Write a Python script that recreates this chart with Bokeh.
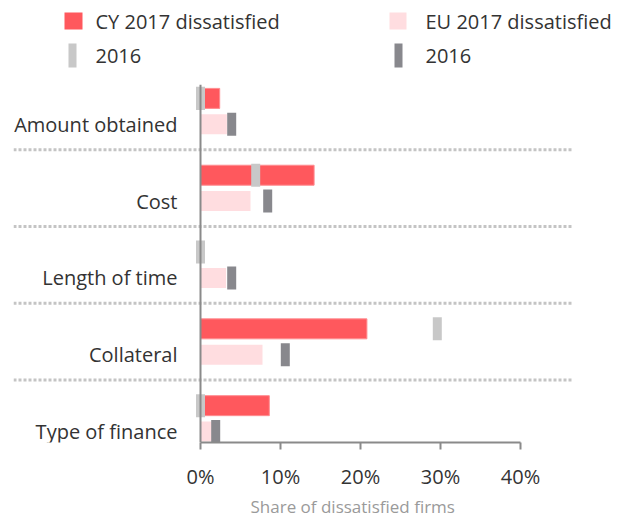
from bokeh.plotting import figure
from bokeh.models import Range1d, FixedTicker, PrintfTickFormatter, Span, ColumnDataSource, Title
from bokeh.layouts import column
from bokeh.embed import file_html
from bokeh.resources import INLINE
from bokeh.core.properties import value

# ---------------- data ----------------
categories = ["Amount obtained", "Cost", "Length of time", "Collateral", "Type of finance"]
cy_2017 = [2.4, 14.2, 0.0, 20.8, 8.6]     # CY 2017 dissatisfied (%)
cy_2016 = [0.0, 6.9, 0.0, 29.6, 0.0]      # CY 2016 (%)
eu_2017 = [3.3, 6.25, 3.2, 7.75, 1.4]     # EU 2017 dissatisfied (%)
eu_2016 = [3.9, 8.4, 3.9, 10.6, 1.9]      # EU 2016 (%)
x_ticks = [0, 10, 20, 30, 40]
legend_labels = ["CY 2017 dissatisfied", "EU 2017 dissatisfied", "2016", "2016"]
x_title = "Share of dissatisfied firms"

# ---------------- style ----------------
FONT = "Open Sans"
RED = "#FF585D"
PINK = "#FFDDE0"
LGRAY = "#C8C8C8"
DGRAY = "#88888D"
AXIS = "#8A8A8A"
TXT = "#333333"

W = 620
BL, BR = 13, 0           # frame borders (left / right)
LEG_H = 84
MAIN_H = 433
PX_PER_PCT = 8
ZERO_PX = 200
ROW_PX = 77.25           # pixels per category row
EU0_PX = 124             # pixel row of first EU bar
FR_TOP, FR_BOT = LEG_H, 444
SEP_X0, SEP_X1 = -23.375, 46.375   # extent of dotted separators (in % units)
TITLE_LEFT_PX = 250

ROW_OFF = 0.337          # CY bar sits above the EU bar
BAR_H = 0.26
MARK_H = 0.30

idx = list(range(len(categories)))
src = ColumnDataSource(dict(
    cat=categories,
    eu_y=[i for i in idx],
    cy_y=[i - ROW_OFF for i in idx],
    cy17=cy_2017, cy16=cy_2016, eu17=eu_2017, eu16=eu_2016,
))
sep_src = ColumnDataSource(dict(y=[i + 0.33 for i in idx[:-1]]))

y_top = (FR_TOP - EU0_PX) / ROW_PX
y_bot = (FR_BOT - EU0_PX) / ROW_PX
x_lo = (BL - ZERO_PX) / PX_PER_PCT
x_hi = (W - BR - ZERO_PX) / PX_PER_PCT

p = figure(width=W, height=MAIN_H,
           x_range=Range1d(x_lo, x_hi), y_range=Range1d(y_bot, y_top),
           output_backend="svg", toolbar_location=None, y_axis_location=None,
           min_border_left=BL, min_border_right=BR, min_border_top=0, min_border_bottom=0,
           outline_line_color=None, background_fill_color="white", border_fill_color="white")
p.grid.visible = False

# separators
p.segment(x0=SEP_X0, x1=SEP_X1, y0="y", y1="y", source=sep_src,
          line_color="#C4C4C4", line_width=3, line_dash="3 2")

# bars
p.hbar(y="cy_y", left=0, right="cy17", height=BAR_H, source=src,
       fill_color=RED, line_color="#FF8C90", line_width=1)
p.hbar(y="eu_y", left=0, right="eu17", height=BAR_H, source=src,
       fill_color=PINK, line_color=None)

# vertical zero line
p.add_layout(Span(location=0, dimension="height", line_color=AXIS, line_width=2))

# 2016 markers
p.rect(x="cy16", y="cy_y", width=9, width_units="screen", height=MARK_H, source=src,
       fill_color=LGRAY, line_color=None)
p.rect(x="eu16", y="eu_y", width=9, width_units="screen", height=MARK_H, source=src,
       fill_color=DGRAY, line_color=None)

# category labels
p.text(x=-2.875, y="eu_y", text="cat", source=src, text_align="right", text_baseline="middle",
       text_font=value(FONT), text_font_size="20px", text_color=TXT)

xa = p.xaxis[0]
xa.bounds = (0, 40)
xa.ticker = FixedTicker(ticks=x_ticks)
xa.formatter = PrintfTickFormatter(format="%d%%")
xa.minor_tick_line_color = None
xa.major_tick_out = 7
xa.major_tick_in = 0
xa.axis_line_color = AXIS
xa.axis_line_width = 2
xa.major_tick_line_color = AXIS
xa.major_tick_line_width = 2
xa.major_label_text_font = FONT
xa.major_label_text_font_size = "20px"
xa.major_label_text_color = TXT
xa.major_label_standoff = 13

# axis title, placed under the 0-40% span
p.add_layout(Title(text=x_title, align="left", offset=TITLE_LEFT_PX - BL, standoff=0,
                   text_font=FONT, text_font_size="17px", text_font_style="normal",
                   text_color="#9A9A9A"), "below")

# ---------------- legend ----------------
leg = figure(width=W, height=LEG_H, x_range=Range1d(BL, W - BR), y_range=Range1d(LEG_H, 0),
             output_backend="svg", toolbar_location=None,
             x_axis_location=None, y_axis_location=None,
             min_border_left=BL, min_border_right=BR, min_border_top=0, min_border_bottom=0,
             outline_line_color=None,
             background_fill_color="white", border_fill_color="white")
leg.grid.visible = False
leg_src = ColumnDataSource(dict(
    x=[73, 397.5, 72, 398], y=[20.5, 20.5, 55, 55],
    w=[18, 17, 8, 8], h=[17, 17, 24, 24],
    c=[RED, PINK, LGRAY, DGRAY],
    tx=[95, 425, 95, 425], label=legend_labels,
))
leg.rect(x="x", y="y", width="w", height="h", fill_color="c", line_color=None, source=leg_src)
leg.text(x="tx", y="y", text="label", source=leg_src, text_align="left", text_baseline="middle",
         text_font=value(FONT), text_font_size="20px", text_color=TXT)

layout = column(leg, p)
open("out.html", "w").write(file_html(layout, INLINE))
